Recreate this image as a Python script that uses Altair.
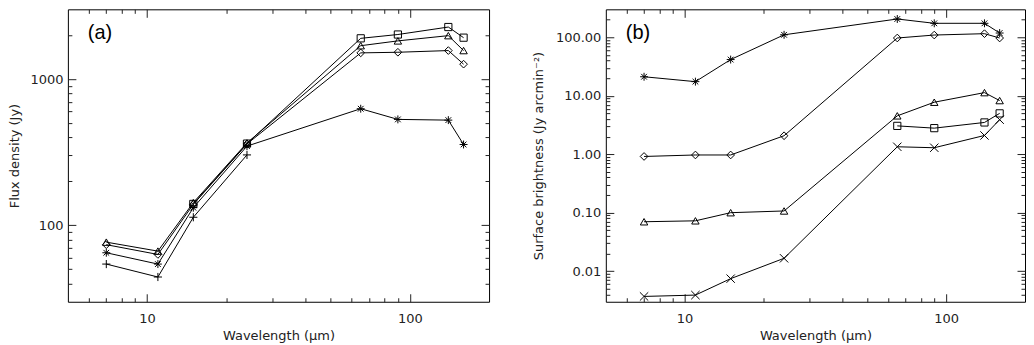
import altair as alt
import pandas as pd

# ---------------- data ----------------
wavelengths = [7, 11, 15, 24, 65, 90, 140, 160]

# panel (a): flux density (Jy)
a_square = [None, None, 140, 362, 1900, 2018, 2270, 1920]
a_triangle = [76.7, 66.6, 143, 366, 1692, 1825, 1982, 1567]
a_diamond = [73.7, 63.2, 139, 360, 1511, 1526, 1567, 1265]
a_asterisk = [64.9, 54.3, 132, 348, 627, 530, 524, 357]
a_plus = [54.3, 44.3, 113.5, 303, None, None, None, None]

# panel (b): surface brightness (Jy arcmin^-2)
b_asterisk = [21.1, 17.4, 41.5, 110, 205, 173, 173, 118]
b_diamond = [0.915, 0.97, 0.97, 2.07, 97, 109, 115, 97]
b_triangle = [0.070, 0.0726, 0.100, 0.107, 4.53, 7.74, 11.3, 8.26]
b_square = [None, None, None, None, 3.05, 2.79, 3.49, 4.99]
b_cross = [0.0037, 0.0039, 0.00745, 0.0166, 1.34, 1.29, 2.09, 3.89]

# axis tick values
x_major = [10, 100]
x_minor = [6, 7, 8, 9, 20, 30, 40, 50, 60, 70, 80, 90]
a_y_major = [100, 1000]
a_y_minor = [40, 50, 60, 70, 80, 90, 200, 300, 400, 500, 600, 700, 800, 900, 2000]
b_y_major = [0.01, 0.1, 1, 10, 100]
b_y_minor = [0.004, 0.005, 0.006, 0.007, 0.008, 0.009,
             0.02, 0.03, 0.04, 0.05, 0.06, 0.07, 0.08, 0.09,
             0.2, 0.3, 0.4, 0.5, 0.6, 0.7, 0.8, 0.9,
             2, 3, 4, 5, 6, 7, 8, 9,
             20, 30, 40, 50, 60, 70, 80, 90, 200]

series_names = ["square", "triangle", "diamond", "asterisk", "plus", "cross"]
ASTERISK = "M-1,0L1,0M0,-1L0,1M-0.72,-0.72L0.72,0.72M-0.72,0.72L0.72,-0.72"
PLUS = "M-1,0L1,0M0,-1L0,1"
CROSS = "M-1,-1L1,1M-1,1L1,-1"
shape_range = ["square", "triangle-up", "diamond", ASTERISK, PLUS, CROSS]
size_range = [52, 70, 58, 68, 58, 68]


def long_df(series):
    rows = []
    for name, vals in series.items():
        for w, v in zip(wavelengths, vals):
            if v is not None:
                rows.append({"wl": w, "val": v, "series": name})
    return pd.DataFrame(rows)


df_a = long_df({"square": a_square, "triangle": a_triangle, "diamond": a_diamond,
                "asterisk": a_asterisk, "plus": a_plus})
df_b = long_df({"asterisk": b_asterisk, "diamond": b_diamond, "triangle": b_triangle,
                "square": b_square, "cross": b_cross})


def tick_axis(orient, vals, major):
    L = 8 if major else 4
    return alt.Axis(orient=orient, values=vals, tickSize=L, offset=-L, domain=False,
                    grid=False, labels=False, title="")


def label_axis(orient, vals, title, fmt, lpad, tpad):
    return alt.Axis(orient=orient, values=vals, ticks=False, domain=False, grid=False,
                    labels=True, format=fmt, labelPadding=lpad, title=title,
                    titlePadding=tpad, labelFlush=False)


def panel(df, ydomain, ymaj, ymin, yfmt, ytitle, label, width, height, ytpad):
    xs = alt.Scale(type="log", domain=[5, 200], nice=False)
    ys = alt.Scale(type="log", domain=ydomain, nice=False)
    base = alt.Chart(df)
    lines = base.mark_line(color="black", strokeWidth=1).encode(
        x=alt.X("wl:Q", scale=xs,
                axis=label_axis("bottom", x_major, "Wavelength (μm)", "d", 11, 4)),
        y=alt.Y("val:Q", scale=ys,
                axis=label_axis("left", ymaj, ytitle, yfmt, 5, ytpad)),
        detail="series:N",
    )
    points = base.mark_point(filled=False, color="black", strokeWidth=1, opacity=1).encode(
        x=alt.X("wl:Q", scale=xs, axis=tick_axis("bottom", x_major, True)),
        y=alt.Y("val:Q", scale=ys, axis=tick_axis("left", ymaj, True)),
        shape=alt.Shape("series:N", scale=alt.Scale(domain=series_names, range=shape_range), legend=None),
        size=alt.Size("series:N", scale=alt.Scale(domain=series_names, range=size_range), legend=None),
    )
    layers = [lines, points]
    for xo, yo, xv, yv, mj in [("bottom", "left", x_minor, ymin, False),
                               ("top", "right", x_major, ymaj, True),
                               ("top", "right", x_minor, ymin, False)]:
        layers.append(base.mark_point(opacity=0).encode(
            x=alt.X("wl:Q", scale=xs, axis=tick_axis(xo, xv, mj)),
            y=alt.Y("val:Q", scale=ys, axis=tick_axis(yo, yv, mj)),
        ))
    text = alt.Chart(pd.DataFrame({"t": [label]})).mark_text(
        font="Liberation Sans", fontSize=20, align="left", baseline="middle", color="black"
    ).encode(text="t:N", x=alt.value(20), y=alt.value(24))
    layers.append(text)
    return alt.layer(*layers).resolve_axis(
        x="independent", y="independent"
    ).properties(width=width, height=height)


pa = panel(df_a, [30, 3000], a_y_major, a_y_minor, "d", "Flux density (Jy)", "(a)", 422, 293, 8)
pb = panel(df_b, [0.003, 300], b_y_major, b_y_minor, ".2f",
           "Surface brightness (Jy arcmin⁻²)", "(b)", 420, 293, 10)

chart = alt.hconcat(pa, pb, spacing=42).configure_view(
    stroke="black", strokeWidth=1
).configure_axis(
    labelFont="DejaVu Sans", labelFontSize=13, labelColor="#222",
    titleFont="DejaVu Sans", titleFontSize=13, titleFontWeight="normal", titleColor="#222",
    tickColor="#222", tickWidth=1,
).properties(padding=0)

chart.save("out.html", embed_options={"renderer": "svg", "actions": False})
